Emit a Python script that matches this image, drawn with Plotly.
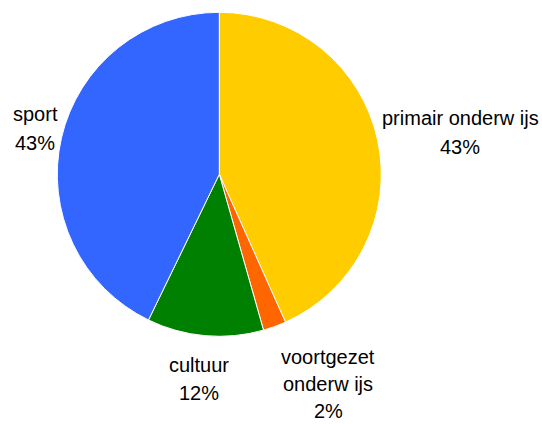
import plotly.graph_objects as go

# Data
categories = ["primair onderw ijs", "voortgezet onderw ijs", "cultuur", "sport"]
label_lines = [["primair onderw ijs"], ["voortgezet", "onderw ijs"], ["cultuur"], ["sport"]]
values = [43.3, 2.3, 11.6, 42.8]
colors = ["#FFCC00", "#FF6600", "#008000", "#3366FF"]

W, H = 542, 424
cx, cy, r = 219.3, 174.3, 162

fig = go.Figure(go.Pie(
    labels=categories,
    values=values,
    sort=False,
    direction="clockwise",
    rotation=0,
    marker=dict(colors=colors, line=dict(color="white", width=1)),
    textinfo="none",
    hoverinfo="label+percent",
    domain=dict(x=[(cx - r) / W, (cx + r) / W], y=[(H - cy - r) / H, (H - cy + r) / H]),
    showlegend=False,
))

total = sum(values)
# label anchor positions (pixel centers, first-line baseline, line spacing)
label_pos = [(460, 125, 29), (328, 364, 27), (199, 372, 28), (35, 121, 29)]
font = dict(family="Liberation Sans, Arial, sans-serif", size=20, color="#000000")

annotations = []
for lines, v, (px, by, gap) in zip(label_lines, values, label_pos):
    pct = f"{round(v / total * 100):d}%"
    all_lines = lines + [pct]
    for i, t in enumerate(all_lines):
        base = by + i * gap
        annotations.append(dict(
            x=px / W, y=1 - (base - 7) / H, xref="paper", yref="paper",
            text=t, showarrow=False, xanchor="center", yanchor="middle",
            borderpad=0, font=font,
        ))

fig.update_layout(
    width=W, height=H,
    margin=dict(l=0, r=0, t=0, b=0),
    paper_bgcolor="white", plot_bgcolor="white",
    annotations=annotations,
)

fig.write_html(
    "out.html",
    config={"displayModeBar": False},
    post_script="document.body.style.margin='0';document.body.style.overflow='hidden';",
)
